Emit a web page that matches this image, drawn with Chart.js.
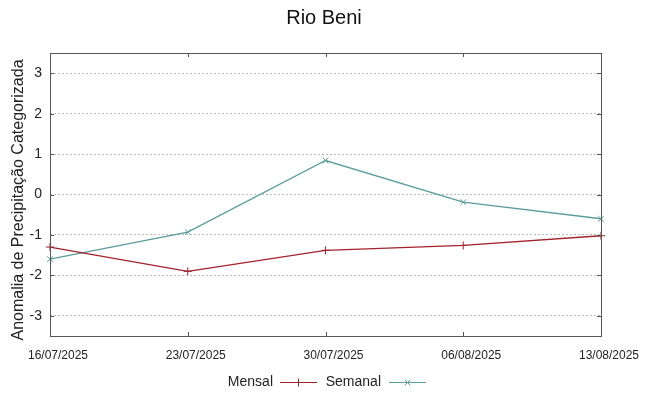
<!DOCTYPE html>
<html lang="pt">
<head>
<meta charset="utf-8">
<title>Rio Beni</title>
<script src="https://cdn.jsdelivr.net/npm/chart.js@4.4.1/dist/chart.umd.min.js"></script>
<style>
  html, body { margin: 0; padding: 0; background: #fff; }
  #chart { display: block; }
</style>
</head>
<body>
<canvas id="chart" width="649" height="396"></canvas>
<script>
'use strict';

// Dados
const dates       = ['16/07/2025', '23/07/2025', '30/07/2025', '06/08/2025', '13/08/2025'];
const mensalVals  = [-1.3, -1.9, -1.38, -1.26, -1.02];
const semanalVals = [-1.6, -0.93, 0.84, -0.19, -0.6];
const yTicks      = [-3, -2, -1, 0, 1, 2, 3];

const titleText  = 'Rio Beni';
const yAxisTitle = 'Anomalia de Precipitação Categorizada';

const FONT   = '"Liberation Sans", Arial, sans-serif';
const RED    = '#a3212b';
const TEAL   = '#5a9c9c';
const BORDER = '#555';

// Moldura estilo gnuplot: borda + marcas internas nos quatro lados
const frame = {
  id: 'frame',
  afterDatasetsDraw(chart) {
    const { ctx, chartArea: a, scales: { x, y } } = chart;
    const t = 4;
    ctx.save();
    ctx.strokeStyle = BORDER;
    ctx.lineWidth = 1;
    ctx.beginPath();
    yTicks.forEach(v => {
      const py = Math.round(y.getPixelForValue(v)) + 0.5;
      ctx.moveTo(a.left, py);  ctx.lineTo(a.left + t, py);
      ctx.moveTo(a.right, py); ctx.lineTo(a.right - t, py);
    });
    dates.forEach((_, i) => {
      const px = Math.round(x.getPixelForValue(i)) + 0.5;
      ctx.moveTo(px, a.bottom); ctx.lineTo(px, a.bottom - t);
      ctx.moveTo(px, a.top);    ctx.lineTo(px, a.top + t);
    });
    ctx.stroke();
    ctx.strokeRect(Math.round(a.left) + 0.5, Math.round(a.top) + 0.5,
                   Math.round(a.right - a.left), Math.round(a.bottom - a.top));
    ctx.restore();
  },
  afterDraw(chart) {
    const { ctx } = chart;
    ctx.save();

    // título
    ctx.fillStyle = '#111';
    ctx.font = '20px ' + FONT;
    ctx.textAlign = 'center';
    ctx.textBaseline = 'middle';
    ctx.fillText(titleText, 324, 18);

    // rótulo do eixo y
    ctx.save();
    ctx.translate(19, 200);
    ctx.rotate(-Math.PI / 2);
    ctx.fillStyle = '#222';
    ctx.font = '16px ' + FONT;
    ctx.fillText(yAxisTitle, 0, 0);
    ctx.restore();

    // legenda: texto à esquerda, amostra da linha à direita
    const ly = 382;
    const items = [
      { ds: chart.data.datasets[0], textRight: 273, x0: 280, x1: 317 },
      { ds: chart.data.datasets[1], textRight: 381, x0: 389, x1: 426 },
    ];
    ctx.font = '14px ' + FONT;
    ctx.textAlign = 'right';
    items.forEach(it => {
      ctx.fillStyle = '#222';
      ctx.fillText(it.ds.label, it.textRight, ly);
      ctx.strokeStyle = it.ds.borderColor;
      ctx.lineWidth = 1;
      ctx.beginPath();
      ctx.moveTo(it.x0, ly + 0.5);
      ctx.lineTo(it.x1, ly + 0.5);
      ctx.stroke();
      Chart.helpers.drawPoint(ctx, {
        pointStyle: it.ds.pointStyle, radius: 4, borderWidth: 1, rotation: 0
      }, (it.x0 + it.x1) / 2, ly + 0.5);
    });
    ctx.restore();
  }
};

new Chart(document.getElementById('chart'), {
  type: 'line',
  data: {
    labels: dates,
    datasets: [
      {
        label: 'Mensal',
        data: mensalVals,
        borderColor: RED,
        backgroundColor: RED,
        borderWidth: 1.3,
        pointStyle: 'cross',
        pointRadius: 4,
        pointBorderWidth: 1,
        tension: 0,
        clip: false,
      },
      {
        label: 'Semanal',
        data: semanalVals,
        borderColor: TEAL,
        backgroundColor: TEAL,
        borderWidth: 1.3,
        pointStyle: 'crossRot',
        pointRadius: 4,
        pointBorderWidth: 1,
        tension: 0,
        clip: false,
      }
    ]
  },
  options: {
    responsive: false,
    animation: false,
    layout: { padding: { left: 0, right: 48, top: 53, bottom: 0 } },
    plugins: {
      legend: { display: false },
      tooltip: { enabled: false },
      title: { display: false }
    },
    scales: {
      x: {
        type: 'category',
        offset: false,
        grid: { display: false, drawTicks: false },
        border: { display: false },
        ticks: {
          color: '#222',
          font: { family: FONT, size: 12 },
          padding: 12,
          labelOffset: 8,
          maxRotation: 0,
          autoSkip: false
        },
        afterFit(s) { s.height = 60; }
      },
      y: {
        min: -3.5,
        max: 3.5,
        afterBuildTicks(s) { s.ticks = yTicks.map(v => ({ value: v })); },
        grid: {
          color: '#bbb',
          lineWidth: 1,
          drawTicks: false
        },
        border: { display: false, dash: [2, 2] },
        ticks: {
          color: '#222',
          font: { family: FONT, size: 14 },
          padding: 8
        },
        afterFit(s) { s.width = 50; }
      }
    }
  },
  plugins: [frame]
});
</script>
</body>
</html>
